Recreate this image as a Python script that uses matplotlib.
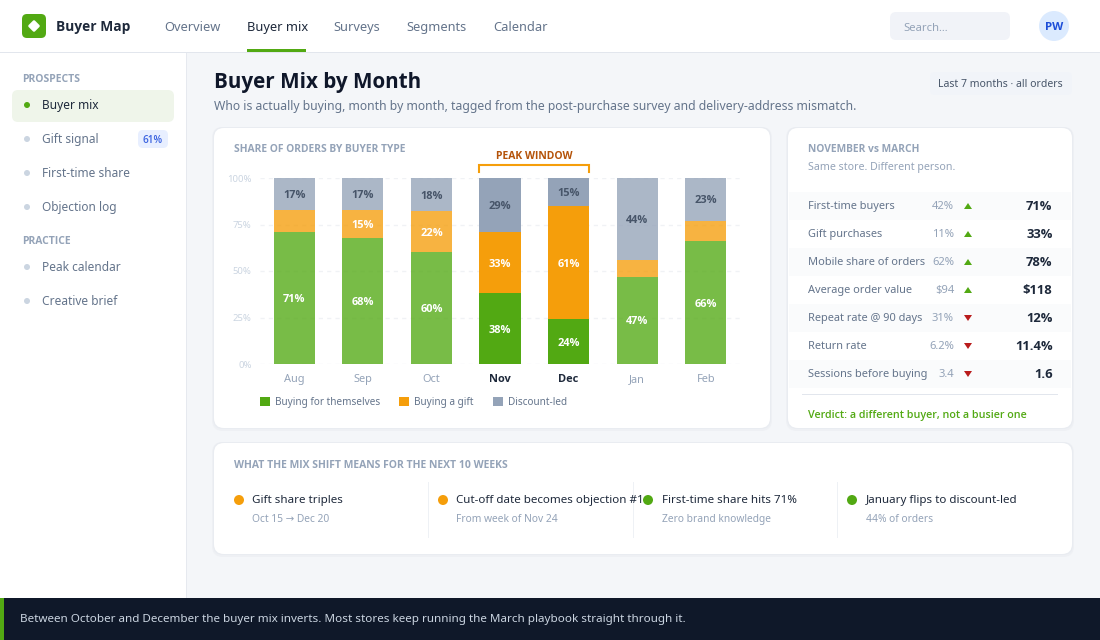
#!/usr/bin/env python3
"""Buyer Map dashboard page with the monthly buyer mix stacked bars."""

import matplotlib
matplotlib.use("Agg")
import matplotlib.pyplot as plt
from matplotlib.patches import Circle, FancyBboxPatch, Patch, Polygon, Rectangle
from matplotlib.transforms import Affine2D

plt.rcParams["font.family"] = ["Noto Sans", "DejaVu Sans"]

MONTHS = ["Aug", "Sep", "Oct", "Nov", "Dec", "Jan", "Feb"]
SELF_SHARE = [71, 68, 60, 38, 24, 47, 66]
GIFT_SHARE = [12, 15, 22, 33, 61, 9, 11]
DISCOUNT_SHARE = [17, 17, 18, 29, 15, 44, 23]
PEAK_MONTHS = ["Nov", "Dec"]
Y_TICKS = [0, 25, 50, 75, 100]
SERIES_NAMES = ["Buying for themselves", "Buying a gift", "Discount-led"]

NAV_ITEMS = ["Overview", "Buyer mix", "Surveys", "Segments", "Calendar"]
SIDE_PROSPECTS = ["Buyer mix", "Gift signal", "First-time share", "Objection log"]
SIDE_PRACTICE = ["Peak calendar", "Creative brief"]

ROW_LABELS = ["First-time buyers", "Gift purchases", "Mobile share of orders",
              "Average order value", "Repeat rate @ 90 days", "Return rate",
              "Sessions before buying"]
ROW_BEFORE = ["42%", "11%", "62%", "$94", "31%", "6.2%", "3.4"]
ROW_AFTER = ["71%", "33%", "78%", "$118", "12%", "11.4%", "1.6"]
ROW_UP = [True, True, True, True, False, False, False]

SHIFT_TITLES = ["Gift share triples", "Cut-off date becomes objection #1",
                "First-time share hits 71%", "January flips to discount-led"]
SHIFT_NOTES = ["Oct 15 → Dec 20", "From week of Nov 24", "Zero brand knowledge", "44% of orders"]

GREEN = "#52a913"
ORANGE = "#f59e0b"
SLATE = "#94a3b8"
INK = "#1e293b"
MUTED = "#64748b"
BOLD_FAMILY = ["Open Sans", "DejaVu Sans"]  # Noto Sans here only has a regular weight
W, H = 1100, 640


def px(size):
    # sizes below are css pixels, figure is 100 dpi
    return size * 0.72


def rbox(ax, x0, y0, x1, y1, r, color, z=1, **kw):
    box = FancyBboxPatch((x0, y0), x1 - x0, y1 - y0, boxstyle=f"round,pad=0,rounding_size={r}",
                         fc=color, ec="none", zorder=z, **kw)
    ax.add_patch(box)
    return box


def label(ax, x, y, s, size, color, weight="normal", ha="left", z=5):
    if weight == "normal":
        return ax.text(x, y - 0.7, s, fontsize=px(size * 0.977), color=color, ha=ha,
                       va="center_baseline", zorder=z)
    return ax.text(x, y - 0.7, s, fontsize=px(size), color=color, fontweight=weight, family=BOLD_FAMILY,
                   ha=ha, va="center_baseline", zorder=z)


def card(ax, x0, y0, x1, y1):
    # soft shadow then white body
    rbox(ax, x0 - 2, y0 - 1, x1 + 2, y1 + 3, 11, "#eef0f4", z=1)
    rbox(ax, x0 - 1, y0 - 1, x1 + 1, y1 + 1, 10, "#e9ecf1", z=1.1)
    rbox(ax, x0, y0, x1, y1, 10, "white", z=1.2)


def draw_page(ax):
    ax.add_patch(Rectangle((0, 52), 186, 546, fc="white", ec="none", zorder=0.5))
    ax.add_patch(Rectangle((186, 52), 1, 546, fc="#e6e9ef", ec="none", zorder=0.6))
    ax.add_patch(Rectangle((0, 0), W, 52, fc="white", ec="none", zorder=0.5))
    ax.add_patch(Rectangle((0, 52), W, 1, fc="#e2e6ed", ec="none", zorder=0.6))

    # top bar
    rbox(ax, 22, 14, 46, 38, 5, GREEN)
    rbox(ax, 29.5, 21.5, 38.5, 30.5, 1.5, "white", z=2).set_transform(
        Affine2D().rotate_deg_around(34, 26, 45) + ax.transData)
    label(ax, 56, 26.5, "Buyer Map", 13.8, INK, "bold")
    nav_x = [163.8, 247, 333.8, 406.8, 492.8]
    for x, name in zip(nav_x, NAV_ITEMS):
        active = name == "Buyer mix"
        label(ax, x, 26.5, name, 13.15, INK if active else MUTED)
    ax.add_patch(Rectangle((247, 49), 59, 3, fc=GREEN, ec="none", zorder=3))
    rbox(ax, 890, 12, 1010, 40, 6, "#f1f3f8")
    label(ax, 903.5, 27.5, "Search...", 11.5, SLATE)
    ax.add_patch(Circle((1054, 26), 15, fc="#dbeafe", ec="none", zorder=2))
    label(ax, 1054, 27, "PW", 11.5, "#1d4ed8", "bold", ha="center")

    # sidebar
    label(ax, 22, 78.5, "PROSPECTS", 10.4, SLATE, "bold")
    rbox(ax, 12, 90, 174, 122, 6, "#eff5ea")
    for y, name in zip([105, 139, 173, 207], SIDE_PROSPECTS):
        active = name == "Buyer mix"
        ax.add_patch(Circle((27, y), 3, fc=GREEN if active else "#cbd5e1", ec="none", zorder=3))
        label(ax, 42, y, name, 12.2, INK if active else MUTED)
    rbox(ax, 138, 130, 168, 148, 5, "#e8efff")
    label(ax, 153, 139.5, "61%", 10, "#3b63e0", 600, ha="center")
    label(ax, 22, 240.5, "PRACTICE", 10.4, SLATE, "bold")
    for y, name in zip([267, 301], SIDE_PRACTICE):
        ax.add_patch(Circle((27, y), 3, fc="#cbd5e1", ec="none", zorder=3))
        label(ax, 42, y, name, 12.2, MUTED)

    # heading
    label(ax, 214, 81, "Buyer Mix by Month", 20.7, "#0f172a", "bold")
    label(ax, 214, 105.5, "Who is actually buying, month by month, tagged from the post-purchase survey "
          "and delivery-address mismatch.", 12.5, MUTED)
    rbox(ax, 930, 72, 1072, 95, 5, "#f1f4f9")
    label(ax, 1000.5, 83.5, "Last 7 months · all orders", 10.7, "#475569", ha="center")

    card(ax, 214, 128, 770, 428)
    card(ax, 788, 128, 1072, 428)
    card(ax, 214, 443, 1072, 554)
    label(ax, 234, 148.5, "SHARE OF ORDERS BY BUYER TYPE", 10.3, SLATE, "bold")

    # comparison table
    label(ax, 808, 148.5, "NOVEMBER vs MARCH", 10.2, SLATE, "bold")
    label(ax, 808, 166.5, "Same store. Different person.", 10.85, SLATE)
    for i, name in enumerate(ROW_LABELS):
        y = 206 + 28 * i
        if i % 2 == 0:
            ax.add_patch(Rectangle((789, y - 14), 282, 28, fc="#fafbfc", ec="none", zorder=2))
        label(ax, 808, y, name, 11.25, MUTED)
        label(ax, 954, y, ROW_BEFORE[i], 11.5, SLATE, ha="right")
        if ROW_UP[i]:
            tri = [(964, y + 3), (972, y + 3), (968, y - 3)]
        else:
            tri = [(964, y - 3), (972, y - 3), (968, y + 3)]
        ax.add_patch(Polygon(tri, fc=GREEN if ROW_UP[i] else "#b91c1c", ec="none", zorder=3))
        label(ax, 1052.5, y, ROW_AFTER[i], 13, INK, "bold", ha="right")
    ax.add_patch(Rectangle((802, 394), 256, 1, fc="#e2e6ed", ec="none", zorder=3))
    label(ax, 808, 414.5, "Verdict: a different buyer, not a busier one", 10.7, GREEN, 600)

    # what it means strip
    label(ax, 234, 464.5, "WHAT THE MIX SHIFT MEANS FOR THE NEXT 10 WEEKS", 10.4, SLATE, "bold")
    dot_x = [239, 443, 648, 852]
    dot_colors = [ORANGE, ORANGE, GREEN, GREEN]
    for x, title, note, color in zip(dot_x, SHIFT_TITLES, SHIFT_NOTES, dot_colors):
        label(ax, x + 13.5, 500, title, 11.85, INK)
        label(ax, x + 13.5, 518.5, note, 10.5, SLATE)
        ax.add_patch(Circle((x, 500), 5, fc=color, ec="none", zorder=6))
    for x in [428, 633, 837]:
        ax.add_patch(Rectangle((x, 482), 1, 56, fc="#eef1f5", ec="none", zorder=3))

    # footer
    ax.add_patch(Rectangle((0, 598), W, 42, fc="#0f1829", ec="none", zorder=3))
    ax.add_patch(Rectangle((0, 598), 4, 42, fc=GREEN, ec="none", zorder=4))
    label(ax, 20, 618.5, "Between October and December the buyer mix inverts. Most stores keep running "
          "the March playbook straight through it.", 11.93, "#cbd5e1")


def draw_chart(ax):
    x = list(range(len(MONTHS)))
    alphas = [1.0 if m in PEAK_MONTHS else 0.78 for m in MONTHS]
    bottom = [0] * len(MONTHS)
    series = [(SELF_SHARE, GREEN, "white"), (GIFT_SHARE, ORANGE, "white"), (DISCOUNT_SHARE, SLATE, "#475569")]
    for values, color, text_color in series:
        bars = ax.bar(x, values, 0.6, bottom=bottom, color=color, zorder=3)
        for i, bar in enumerate(bars):
            bar.set_alpha(alphas[i])
            if values[i] >= 15:
                ax.text(i, bottom[i] + values[i] / 2, f"{values[i]}%", ha="center", va="center_baseline",
                        fontsize=px(11), fontweight="bold", family=BOLD_FAMILY, color=text_color, zorder=4)
        bottom = [b + v for b, v in zip(bottom, values)]

    ax.set_xlim(-0.5, len(MONTHS) - 0.5)
    ax.set_ylim(0, 100)
    ax.set_yticks(Y_TICKS)
    ax.set_yticklabels([f"{t}%" for t in Y_TICKS], fontsize=px(9.5), color="#cbd5e1")
    ax.set_xticks(x)
    ax.set_xticklabels(MONTHS, fontsize=px(11), color=SLATE)
    for tick, month in zip(ax.get_xticklabels(), MONTHS):
        if month in PEAK_MONTHS:
            tick.set_color(INK)
            tick.set_fontweight("bold")
            tick.set_family(BOLD_FAMILY)
    ax.tick_params(axis="both", length=0)
    ax.tick_params(axis="x", pad=7.5)
    ax.tick_params(axis="y", pad=6)
    ax.grid(axis="y", color="#f0f2f5", linewidth=1, linestyle=(0, (3, 3)), zorder=0)
    ax.set_axisbelow(True)
    for spine in ax.spines.values():
        spine.set_visible(False)
    ax.patch.set_alpha(0)

    # peak window bracket above Nov and Dec
    first, last = MONTHS.index("Nov") - 0.3, MONTHS.index("Dec") + 0.3
    ax.plot([first, first, last, last], [103, 107, 107, 103], color=ORANGE, lw=1.5, clip_on=False,
            solid_joinstyle="miter", zorder=4)
    ax.text((first + last) / 2, 108.5, "PEAK WINDOW", ha="center", va="bottom", fontsize=px(10.4),
            fontweight="bold", family=BOLD_FAMILY, color="#b45309")

    handles = [Patch(fc=c, ec="none") for c in [GREEN, ORANGE, SLATE]]
    ax.legend(handles, SERIES_NAMES, loc="upper left", bbox_to_anchor=(0, -0.175), ncol=3, frameon=False,
              fontsize=px(10), labelcolor=MUTED, handlelength=1.0, handleheight=1.0, handletextpad=0.5,
              columnspacing=1.9, borderpad=0, borderaxespad=0)


def main():
    fig = plt.figure(figsize=(W / 100, H / 100), dpi=100, facecolor="#f4f6f9")
    page = fig.add_axes([0, 0, 1, 1])
    page.set_xlim(0, W)
    page.set_ylim(H, 0)
    page.axis("off")
    draw_page(page)

    # plot area in page pixels: x 260-740, y 178-364
    chart = fig.add_axes([260 / W, 1 - 364 / H, 480 / W, 186 / H], zorder=5)
    draw_chart(chart)

    fig.savefig("out.png", dpi=100, facecolor=fig.get_facecolor())
    plt.close(fig)


if __name__ == "__main__":
    main()
